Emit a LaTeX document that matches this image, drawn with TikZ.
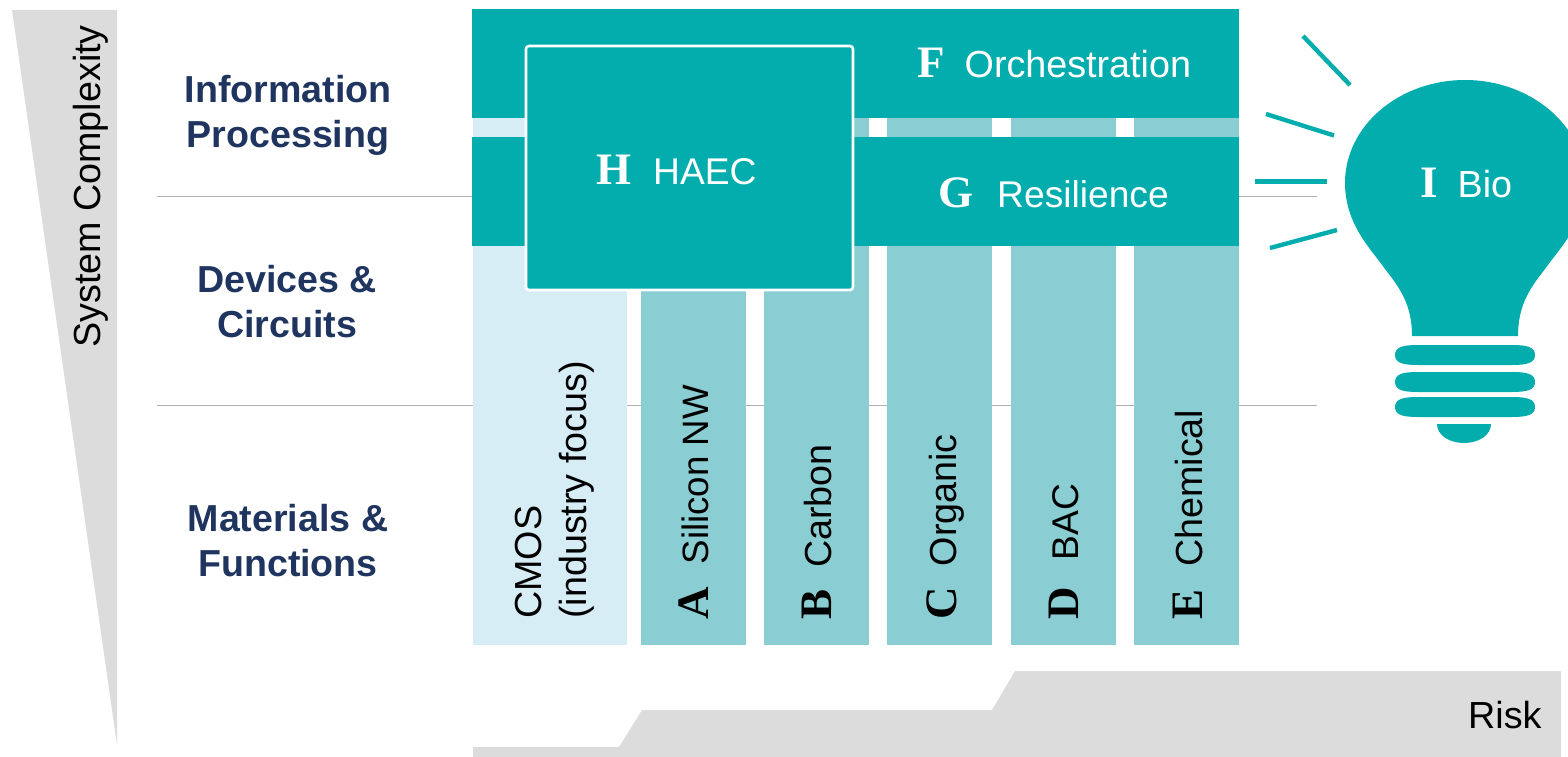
\documentclass[tikz,border=0pt]{standalone}
\usepackage{fontspec}
\setmainfont{Liberation Sans}
\newfontfamily\ltrfont{Liberation Serif}
\definecolor{teal1}{HTML}{03ADAD}
\definecolor{teal2}{HTML}{8ACDD2}
\definecolor{pale}{HTML}{D7EDF5}
\definecolor{grayb}{HTML}{DCDCDC}
\definecolor{navy}{HTML}{1F3560}
\definecolor{rule}{HTML}{B0B0B0}
\newcommand{\ltr}[2][20]{{\ltrfont\bfseries\fontsize{45}{45}\selectfont #2}\hspace{#1pt}}
\newcommand{\threadpath}[1]{\fill[thread] (1395,#1+10) .. controls (1395,#1+2) and (1403,#1) .. (1418,#1) -- (1512,#1) .. controls (1527,#1) and (1535,#1+2) .. (1535,#1+10) .. controls (1535,#1+18) and (1527,#1+20) .. (1512,#1+20) -- (1418,#1+20) .. controls (1403,#1+20) and (1395,#1+18) .. (1395,#1+10) -- cycle;}
\tikzset{
  box/.style={draw=none,inner sep=0,outer sep=0,anchor=north west},
  band/.style={box,fill=teal1},
  col/.style={box,fill=teal2},
  lab/.style={inner sep=0,anchor=base west,font=\fontsize{37.7}{40}\selectfont},
  labs/.style={lab,font=\fontsize{37.2}{40}\selectfont},
  wlab/.style={lab,text=white},
  wlabs/.style={labs,text=white},
  vlab/.style={lab,rotate=90,text=black},
  vlabs/.style={labs,rotate=90,text=black},
  side/.style={inner sep=0,align=center,text=navy,font=\bfseries\fontsize{37.6}{45}\selectfont},
  rayline/.style={draw=teal1,line width=4.4pt},
  thread/.style={fill=teal1}
}
\begin{document}
\begin{tikzpicture}[x=1pt,y=-1pt]
\useasboundingbox (0,0) rectangle (1568,757);
% background shapes
\fill[grayb] (12,10) -- (117,10) -- (117,745) -- cycle;
\fill[grayb] (473,757) -- (473,747) -- (619,747) -- (642,710) -- (992,710) -- (1015,671) -- (1561,671) -- (1561,757) -- cycle;
\draw[rule,line width=1pt] (157,196.5) -- (1317,196.5);
\draw[rule,line width=1pt] (157,405.5) -- (1317,405.5);
% columns
\node[box,fill=pale,minimum width=154pt,minimum height=527pt] (cmos) at (473,118) {};
\node[col,minimum width=105pt,minimum height=527pt] (colA) at (641,118) {};
\node[col,minimum width=105pt,minimum height=527pt] (colB) at (764,118) {};
\node[col,minimum width=105pt,minimum height=527pt] (colC) at (887,118) {};
\node[col,minimum width=105pt,minimum height=527pt] (colD) at (1011,118) {};
\node[col,minimum width=105pt,minimum height=527pt] (colE) at (1134,118) {};
% bands
\node[band,minimum width=767pt,minimum height=109pt] (bandF) at (472,9) {};
\node[band,minimum width=767pt,minimum height=109pt] (bandG) at (472,137) {};
\node[box,fill=teal1,draw=white,line width=2.6pt,rounded corners=3pt,minimum width=327pt,minimum height=244pt] (bandH) at (526,46) {};
% bulb
\begin{scope}
\clip (1240,0) rectangle (1568,757);
\fill[teal1] (1465,80)
  .. controls (1400,80) and (1345,125) .. (1345,183)
  .. controls (1345,225) and (1372,250) .. (1385,269)
  .. controls (1400,288) and (1412,305) .. (1412,336)
  -- (1518,336)
  .. controls (1518,305) and (1530,288) .. (1545,269)
  .. controls (1558,250) and (1585,225) .. (1585,183)
  .. controls (1585,125) and (1530,80) .. (1465,80) -- cycle;
\end{scope}
\threadpath{345}
\threadpath{372}
\threadpath{397}
\fill[thread] (1437,424) -- (1491,424) .. controls (1491,435) and (1479,443) .. (1464,443) .. controls (1449,443) and (1437,435) .. (1437,424) -- cycle;
% rays
\draw[rayline] (1303,36) -- (1350,85);
\draw[rayline] (1266,114) -- (1334,135.5);
\draw[rayline,line width=5pt] (1255,181) -- (1327,181);
\draw[rayline] (1270,248) -- (1337,230);
% labels
\node[side] (info) at (288,115) {Information\\Processing};
\node[side] (dev) at (287,302) {Devices \&\\Circuits};
\node[side] (mat) at (288,541) {Materials \&\\Functions};
\node[vlab] (sys) at (100,348) {System Complexity};
\node[lab] (risk) at (1468,728) {Risk};
\node[wlab] (F) at (917,77.5) {\ltr{F}Orchestration};
\node[wlabs] (G) at (938,207) {\ltr[24]{G}Resilience};
\node[wlabs] (H) at (596,184) {\ltr[22]{H}HAEC};
\node[wlab] (I) at (1420,197) {\ltr{I}Bio};
\node[vlab] (cmosa) at (541,619) {CMOS};
\node[vlab] (cmosb) at (586,619) {(industry focus)};
\node[vlab,font=\fontsize{36.7}{40}\selectfont] (A) at (708,620) {\ltr[23]{A}Silicon NW};
\node[vlab] (B) at (831,620) {\ltr[22]{B}Carbon};
\node[vlab] (C) at (956,620) {\ltr[21]{C}Organic};
\node[vlabs] (D) at (1078,620) {\ltr[27]{D}BAC};
\node[vlab] (E) at (1202,620) {\ltr[23]{E}Chemical};
\end{tikzpicture}
\end{document}
